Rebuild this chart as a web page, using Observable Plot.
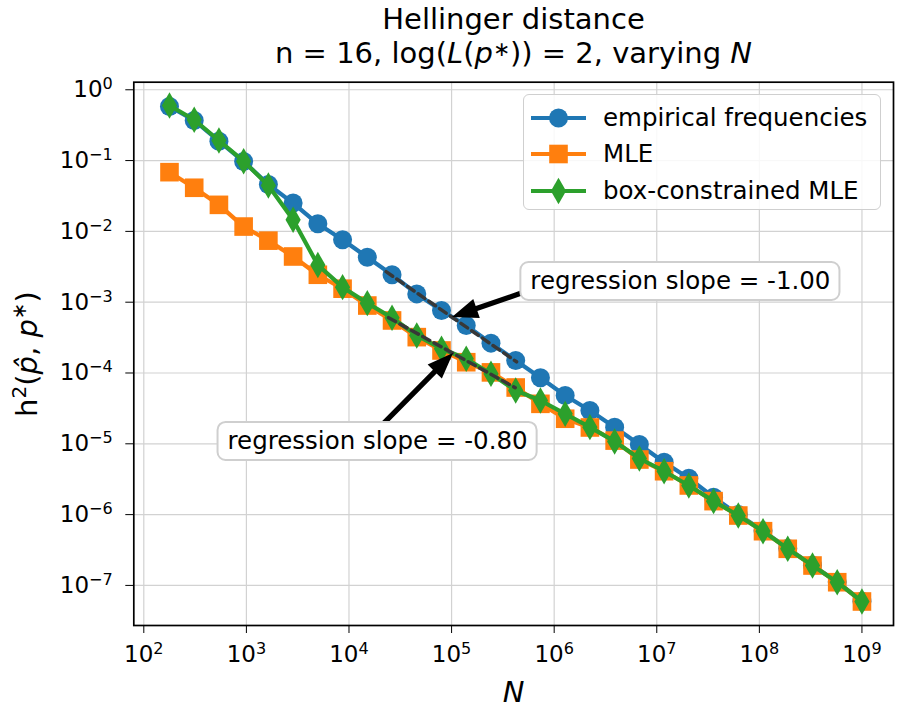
<!DOCTYPE html>
<html>
<head>
<meta charset="utf-8">
<script src="https://cdn.jsdelivr.net/npm/d3@7"></script>
<script src="https://cdn.jsdelivr.net/npm/@observablehq/plot@0.6"></script>
<style>
  body { margin: 0; background: #fff; font-family: "DejaVu Sans", sans-serif; }
  #wrap { position: relative; width: 900px; height: 720px; overflow: hidden; background: #fff; }
  #title { position: relative; height: 72px; }
  .tl { position: absolute; left: 134px; width: 759px; text-align: center; font-size: 29px; line-height: 29px; color: #000; white-space: nowrap; }
  .tl sup { font-size: 0.7em; vertical-align: 0.35em; line-height: 0; }
  #legend { position: absolute; left: 523px; top: 94px; width: 356px; height: 114px; border: 1.6px solid #cfcfcf; border-radius: 6px; background: rgba(255,255,255,0.85); }
  .lrow { position: absolute; left: 0; height: 36px; width: 100%; }
  .lrow svg { position: absolute; left: 6px; top: 3px; }
  .lrow span { position: absolute; left: 79px; top: 0; line-height: 36px; font-size: 24.5px; color: #000; white-space: nowrap; }
</style>
</head>
<body>
<div id="wrap">
  <div id="title">
    <div class="tl" style="top:4.5px">Hellinger distance</div>
    <div class="tl" style="top:39px">n = 16, log(<i>L</i>(<i>p</i><sup>∗</sup>)) = 2, varying <i>N</i></div>
  </div>
  <div id="chart"></div>
  <div id="legend"></div>
</div>
<script>
// ---------- data ----------
const N = [178, 310, 540, 940, 1638, 2853, 4971, 8660, 15087, 26283, 45789, 79770,
  138950, 242080, 421700, 734700, 1280000, 2229800, 3884500, 6767000, 11788000,
  20535000, 35775000, 62320000, 108570000, 189140000, 329510000, 574040000, 1000000000];

const empirical = [0.58, 0.368, 0.188, 0.097, 0.046, 0.0251, 0.0128, 0.0076, 0.0043,
  0.00244, 0.00131, 0.000764, 0.000469, 0.000264, 0.000150, 8.56e-5, 4.81e-5, 2.95e-5,
  1.71e-5, 9.77e-6, 5.50e-6, 3.27e-6, 1.76e-6, 1.0e-6, 5.9e-7, 3.32e-7, 1.93e-7, 1.12e-7, 6.0e-8];

const mle = [0.0686, 0.0413, 0.0237, 0.0117, 0.0074, 0.00442, 0.00244, 0.00155, 0.000897,
  0.000552, 0.000321, 0.000208, 0.000142, 0.000102, 6.24e-5, 3.67e-5, 2.26e-5, 1.70e-5,
  1.11e-5, 6.0e-6, 4.10e-6, 2.58e-6, 1.55e-6, 9.71e-7, 5.83e-7, 3.29e-7, 1.91e-7, 1.11e-7, 5.93e-8];

const boxMle = [0.60, 0.377, 0.192, 0.098, 0.0445, 0.0146, 0.00335, 0.00163, 0.00097,
  0.000602, 0.000339, 0.00022, 0.000159, 9.75e-5, 5.66e-5, 4.09e-5, 2.65e-5, 1.72e-5,
  1.08e-5, 6.2e-6, 4.10e-6, 2.58e-6, 1.55e-6, 9.71e-7, 5.83e-7, 3.29e-7, 1.91e-7, 1.11e-7, 5.93e-8];

const seriesNames = ["empirical frequencies", "MLE", "box-constrained MLE"];
const seriesColors = ["#1f77b4", "#ff7f0e", "#2ca02c"];
const seriesSymbols = ["circle", "square", "diamond"];

const xTicks = [1e2, 1e3, 1e4, 1e5, 1e6, 1e7, 1e8, 1e9];
const yTicks = [1e-7, 1e-6, 1e-5, 1e-4, 1e-3, 1e-2, 1e-1, 1e0];

// regression fit segments (endpoints in data units)
const regressionIds = ["empirical", "box"];
const regressionN = [[2.3e4, 4.3e5], [2.43e4, 4.17e5]];
const regressionH = [[2.70e-3, 1.44e-4], [6.04e-4, 6.2e-5]];

// annotations: label, text centre, arrow start, arrow tip (data units)
const annLabels = ["regression slope = -1.00", "regression slope = -0.80"];
const annTextN = [1.70e7, 1.90e4];
const annTextH = [1.96e-3, 1.08e-5];
const annStartN = [5.87e5, 1.81e4];
const annStartH = [1.46e-3, 1.44e-5];
const annTipN = [1.02e5, 1.045e5];
const annTipH = [6.08e-4, 1.88e-4];

// ---------- build ----------
const seriesValues = [empirical, mle, boxMle];
const markerR = {circle: 9.5, square: 10.5, diamond: 8};
const rows = seriesValues.map(vals => N.map((n, i) => ({N: n, h: vals[i]})));
const regRows = regressionIds.flatMap((id, k) =>
  regressionN[k].map((n, j) => ({id, N: n, h: regressionH[k][j]})));
const annotations = annLabels.map((label, k) => ({
  label, textN: annTextN[k], textH: annTextH[k],
  startN: annStartN[k], startH: annStartH[k], tipN: annTipN[k], tipH: annTipH[k]
}));

const marks = [
  Plot.ruleX(xTicks, {stroke: "#d2d2d2", strokeWidth: 1.2}),
  Plot.ruleY(yTicks, {stroke: "#d2d2d2", strokeWidth: 1.2})
];
seriesValues.forEach((_, k) => {
  marks.push(Plot.line(rows[k], {x: "N", y: "h", stroke: seriesColors[k], strokeWidth: 4.2}));
  marks.push(Plot.dot(rows[k], {x: "N", y: "h", fill: seriesColors[k], r: markerR[seriesSymbols[k]], symbol: seriesSymbols[k]}));
});
marks.push(Plot.line(regRows, {x: "N", y: "h", z: "id", stroke: "#383838", strokeWidth: 3.5, strokeDasharray: "8,5"}));
marks.push(Plot.text(annotations, {x: "textN", y: "textH", text: "label", fontSize: 24.5, fill: "black"}));
marks.push(Plot.frame({stroke: "black", strokeWidth: 1.7}));

const plot = Plot.plot({
  width: 900,
  height: 648,
  marginLeft: 133.3,
  marginRight: 7,
  marginTop: 9.7,
  marginBottom: 95,
  style: {fontFamily: "DejaVu Sans", fontSize: "23px", color: "black", background: "white"},
  x: {type: "log", domain: [79.9, 2.03e9], ticks: xTicks, tickFormat: d => "10^" + Math.round(Math.log10(d)), tickSize: 8, tickPadding: 12, label: null},
  y: {type: "log", domain: [2.716e-8, 1.279], ticks: yTicks, tickFormat: d => "10^" + Math.round(Math.log10(d)), tickSize: 8, tickPadding: 13, label: null},
  marks
});
document.getElementById("chart").append(plot);

const svg = d3.select(plot);
const sx = plot.scale("x").apply, sy = plot.scale("y").apply;

// superscript tick labels
svg.selectAll("text").each(function () {
  const m = /^10\^(-?\d+)$/.exec(this.textContent);
  if (!m) return;
  const e = m[1].replace("-", "\u2212");
  const t = d3.select(this);
  t.text(null);
  t.append("tspan").text("10");
  t.append("tspan").attr("font-size", "0.7em").attr("dy", "-0.5em").text(e);
});

// arrows + boxes under annotation texts
const annTexts = svg.selectAll("text").filter(function () { return this.textContent.startsWith("regression"); });
const textG = annTexts.node().parentNode;
const holder = textG.parentNode;
const arrowG = d3.create("svg:g");
const boxG = d3.create("svg:g");
holder.insertBefore(arrowG.node(), textG);
holder.insertBefore(boxG.node(), textG);
annotations.forEach(a => {
  const x0 = sx(a.startN), y0 = sy(a.startH), x1 = sx(a.tipN), y1 = sy(a.tipH);
  const dx = x1 - x0, dy = y1 - y0, len = Math.hypot(dx, dy);
  const ux = dx / len, uy = dy / len, nx = -uy, ny = ux;
  const w = 2.6, hl = 26, hw = 10;
  const bx = x1 - ux * hl, by = y1 - uy * hl;
  const pts = [
    [x0 + nx * w, y0 + ny * w], [bx + nx * w, by + ny * w], [bx + nx * hw, by + ny * hw],
    [x1, y1], [bx - nx * hw, by - ny * hw], [bx - nx * w, by - ny * w], [x0 - nx * w, y0 - ny * w]
  ];
  arrowG.append("path").attr("d", "M" + pts.map(p => p.join(",")).join("L") + "Z").attr("fill", "black");
});
annTexts.each(function () {
  const a = annotations.find(d => d.label === this.textContent);
  const bw = this.getBBox().width;
  const cx = sx(a.textN), cy = sy(a.textH);
  boxG.append("rect").attr("x", cx - bw / 2 - 9.5).attr("y", cy - 19).attr("width", bw + 19).attr("height", 38)
    .attr("rx", 8).attr("fill", "white").attr("stroke", "#cfcfcf").attr("stroke-width", 2);
});

// axis labels
const yl = svg.append("text").attr("transform", "translate(37,282) rotate(-90)")
  .attr("text-anchor", "middle").attr("font-size", 29).attr("fill", "black");
yl.append("tspan").text("h");
yl.append("tspan").attr("font-size", 20).attr("dy", -11).text("2");
yl.append("tspan").attr("dy", 11).text("(");
yl.append("tspan").attr("font-style", "italic").text("p\u0302");
yl.append("tspan").text(", ");
yl.append("tspan").attr("font-style", "italic").text("p");
yl.append("tspan").attr("font-size", 20).attr("dy", -11).text("\u2217");
yl.append("tspan").attr("dy", 11).text(")");

svg.append("text").attr("x", 513.5).attr("y", 630).attr("text-anchor", "middle")
  .attr("font-size", 29).attr("font-style", "italic").attr("fill", "black").text("N");

// legend
const legend = d3.select("#legend");
const rowCenters = [22.7, 59.4, 96.1];
seriesNames.forEach((name, k) => {
  const row = legend.append("div").attr("class", "lrow").style("top", (rowCenters[k] - 18) + "px");
  const s = row.append("svg").attr("width", 58).attr("height", 30);
  s.append("line").attr("x1", 1).attr("x2", 56).attr("y1", 15).attr("y2", 15)
    .attr("stroke", seriesColors[k]).attr("stroke-width", 4.2);
  const sym = {circle: d3.symbolCircle, square: d3.symbolSquare, diamond: d3.symbolDiamond}[seriesSymbols[k]];
  const r = markerR[seriesSymbols[k]];
  s.append("path").attr("transform", "translate(28.5,15)").attr("d", d3.symbol(sym, Math.PI * r * r)())
    .attr("fill", seriesColors[k]);
  row.append("span").text(name);
});
</script>
</body>
</html>
